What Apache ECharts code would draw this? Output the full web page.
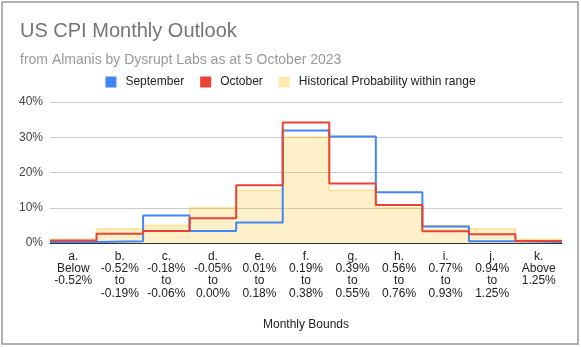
<!DOCTYPE html>
<html>
<head>
<meta charset="utf-8">
<script src="https://cdn.jsdelivr.net/npm/echarts@6/dist/echarts.min.js"></script>
<style>
html,body{margin:0;padding:0;background:#fff;}
#c{width:581px;height:347px;}
</style>
</head>
<body>
<div id="c"></div>
<script>
var categories = [
  'a.\nBelow\n-0.52%',
  'b.\n-0.52%\nto\n-0.19%',
  'c.\n-0.18%\nto\n-0.06%',
  'd.\n-0.05%\nto\n0.00%',
  'e.\n0.01%\nto\n0.18%',
  'f.\n0.19%\nto\n0.38%',
  'g.\n0.39%\nto\n0.55%',
  'h.\n0.56%\nto\n0.76%',
  'i.\n0.77%\nto\n0.93%',
  'j.\n0.94%\nto\n1.25%',
  'k.\nAbove\n1.25%'
];
var september = [0.3, 0.5, 7.8, 3.4, 5.8, 31.9, 30.2, 14.4, 4.7, 0.5, 0.3];
var october = [0.7, 2.6, 3.4, 7.0, 16.4, 34.2, 16.9, 10.8, 3.3, 2.5, 0.6];
var historical = [1, 4, 5, 10, 15, 30, 15, 10, 5, 4, 1];
var yTicks = [0, 10, 20, 30, 40];

function steps(arr) {
  var out = arr.map(function (v, i) { return [i, v]; });
  out.push([arr.length, arr[arr.length - 1]]);
  return out;
}

var FONT = 'Arial, "Liberation Sans", sans-serif';
var chart = echarts.init(document.getElementById('c'), null, {renderer: 'canvas'});
chart.setOption({
  backgroundColor: '#fff',
  animation: false,
  textStyle: {fontFamily: FONT},
  title: {
    text: 'US CPI Monthly Outlook',
    subtext: 'from Almanis by Dysrupt Labs as at 5 October 2023',
    left: 20, top: 21, padding: 0, itemGap: 12,
    textStyle: {fontSize: 20, fontWeight: 'normal', color: '#757575', fontFamily: FONT},
    subtextStyle: {fontSize: 14, color: '#999999', fontFamily: FONT}
  },
  legend: {
    top: 71, left: 'center',
    icon: 'rect', itemWidth: 11, itemHeight: 11, itemGap: 16,
    textStyle: {fontSize: 12, color: '#222', fontFamily: FONT, padding: [0, 0, 0, 4]},
    data: [
      {name: 'September'},
      {name: 'October'},
      {name: 'Historical Probability within range', itemStyle: {color: '#fde8b0'}}
    ]
  },
  grid: {left: 50, right: 19, top: 102, bottom: 104, containLabel: false},
  xAxis: [
    {
      type: 'category', data: categories, boundaryGap: true,
      axisTick: {show: false},
      axisLine: {show: true, lineStyle: {color: '#333', width: 1}},
      axisLabel: {interval: 0, fontSize: 12, lineHeight: 12.4, color: '#222', margin: 7, fontFamily: FONT},
      name: 'Monthly Bounds', nameLocation: 'middle', nameGap: 76,
      nameTextStyle: {fontSize: 12, color: '#222', fontFamily: FONT},
      z: 10
    },
    {
      type: 'value', min: 0, max: categories.length, show: false, position: 'top'
    }
  ],
  yAxis: {
    type: 'value', min: yTicks[0], max: yTicks[yTicks.length - 1], interval: 10,
    axisLine: {show: false}, axisTick: {show: false},
    axisLabel: {formatter: '{value}%', fontSize: 12, color: '#444', margin: 7, fontFamily: FONT},
    splitLine: {lineStyle: {color: '#cccccc', width: 1}}
  },
  graphic: [{
    type: 'rect', silent: true, z: 100,
    shape: {x: 2, y: 2, width: 576, height: 342},
    style: {fill: 'none', stroke: '#9a9a9a', lineWidth: 1.5}
  }],
  series: [
    {
      name: 'Historical Probability within range', type: 'line', xAxisIndex: 1,
      step: 'end', showSymbol: false, symbol: 'none', z: 1,
      data: steps(historical),
      itemStyle: {color: '#fbd876'},
      lineStyle: {color: 'rgba(251,188,4,0.3)', width: 2},
      areaStyle: {color: 'rgba(251,188,4,0.3)', origin: 'start'}
    },
    {
      name: 'September', type: 'line', xAxisIndex: 1,
      step: 'end', showSymbol: false, symbol: 'none', z: 3,
      data: steps(september),
      itemStyle: {color: '#4285f4'},
      lineStyle: {color: '#4285f4', width: 2}
    },
    {
      name: 'October', type: 'line', xAxisIndex: 1,
      step: 'end', showSymbol: false, symbol: 'none', z: 4,
      data: steps(october),
      itemStyle: {color: '#ea4335'},
      lineStyle: {color: '#ea4335', width: 2}
    }
  ]
});
</script>
</body>
</html>
